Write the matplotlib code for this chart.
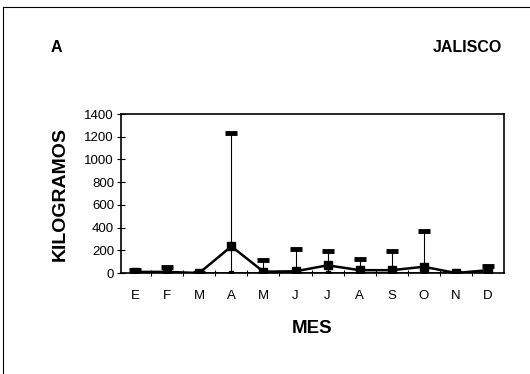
import matplotlib
matplotlib.use('Agg')
import matplotlib.pyplot as plt
from matplotlib.lines import Line2D
import numpy as np

plt.rcParams['font.family'] = ['Liberation Sans', 'DejaVu Sans']

# Monthly catch, Jalisco (kg): max, mean, min
meses = ['E', 'F', 'M', 'A', 'M', 'J', 'J', 'A', 'S', 'O', 'N', 'D']
maximo = [25, 55, 0, 1235, 115, 210, 195, 125, 195, 370, 3, 60]
media = [10, 10, 0, 235, 12, 15, 68, 25, 25, 55, 0, 25]
minimo = [0, 0, 0, 0, 0, 0, 0, 0, 0, 0, 0, 0]

x = np.arange(1, len(meses) + 1)

fig = plt.figure(figsize=(5.3, 3.74), dpi=100)
ax = fig.add_axes([0.2283, 0.270, 0.7227, 0.425])

# high-low lines
ax.vlines(x, minimo, maximo, color='black', linewidth=0.8)
# highs as flat dashes
ax.plot(x, maximo, linestyle='none', marker='_', markersize=8,
        markeredgewidth=3.5, color='black')
# lows
ax.plot(x, minimo, color='black', linewidth=1.2, marker='s', markersize=3)
# means
ax.plot(x, media, color='black', linewidth=1.8, marker='s', markersize=6)

ax.set_xlim(0.56, 12.5)
ax.set_ylim(0, 1400)
ax.set_yticks(np.arange(0, 1401, 200))
ax.set_xticks(x)
ax.set_xticklabels(meses)
ax.set_xticks(np.arange(1.5, 12.5, 1), minor=True)
ax.tick_params(axis='x', which='major', length=0, pad=12, labelsize=9.5)
ax.tick_params(axis='x', which='minor', direction='inout', length=5, width=0.8)
ax.tick_params(axis='y', direction='inout', length=6, width=0.8, labelsize=9.5, pad=2)
for s in ax.spines.values():
    s.set_linewidth(1.2)

ax.set_ylabel('KILOGRAMOS', fontsize=14, fontweight='bold', labelpad=11)
ax.set_xlabel('MES', fontsize=13.5, fontweight='bold', labelpad=13)

fig.text(56 / 530, 1 - 48 / 374, 'A', fontsize=11.5, fontweight='bold',
         ha='center', va='center')
fig.text(502 / 530, 1 - 48 / 374, 'JALISCO', fontsize=11.5, fontweight='bold',
         ha='right', va='center')

# outer frame (top and left edges visible in the scan)
fig.add_artist(Line2D([3 / 530, 1.0], [1 - 7 / 374, 1 - 7 / 374],
                      transform=fig.transFigure, color='black', linewidth=0.8))
fig.add_artist(Line2D([3 / 530, 3 / 530], [0.0, 1 - 7 / 374],
                      transform=fig.transFigure, color='black', linewidth=0.8))

plt.savefig('out.png', dpi=100, facecolor='white')
plt.close('all')
